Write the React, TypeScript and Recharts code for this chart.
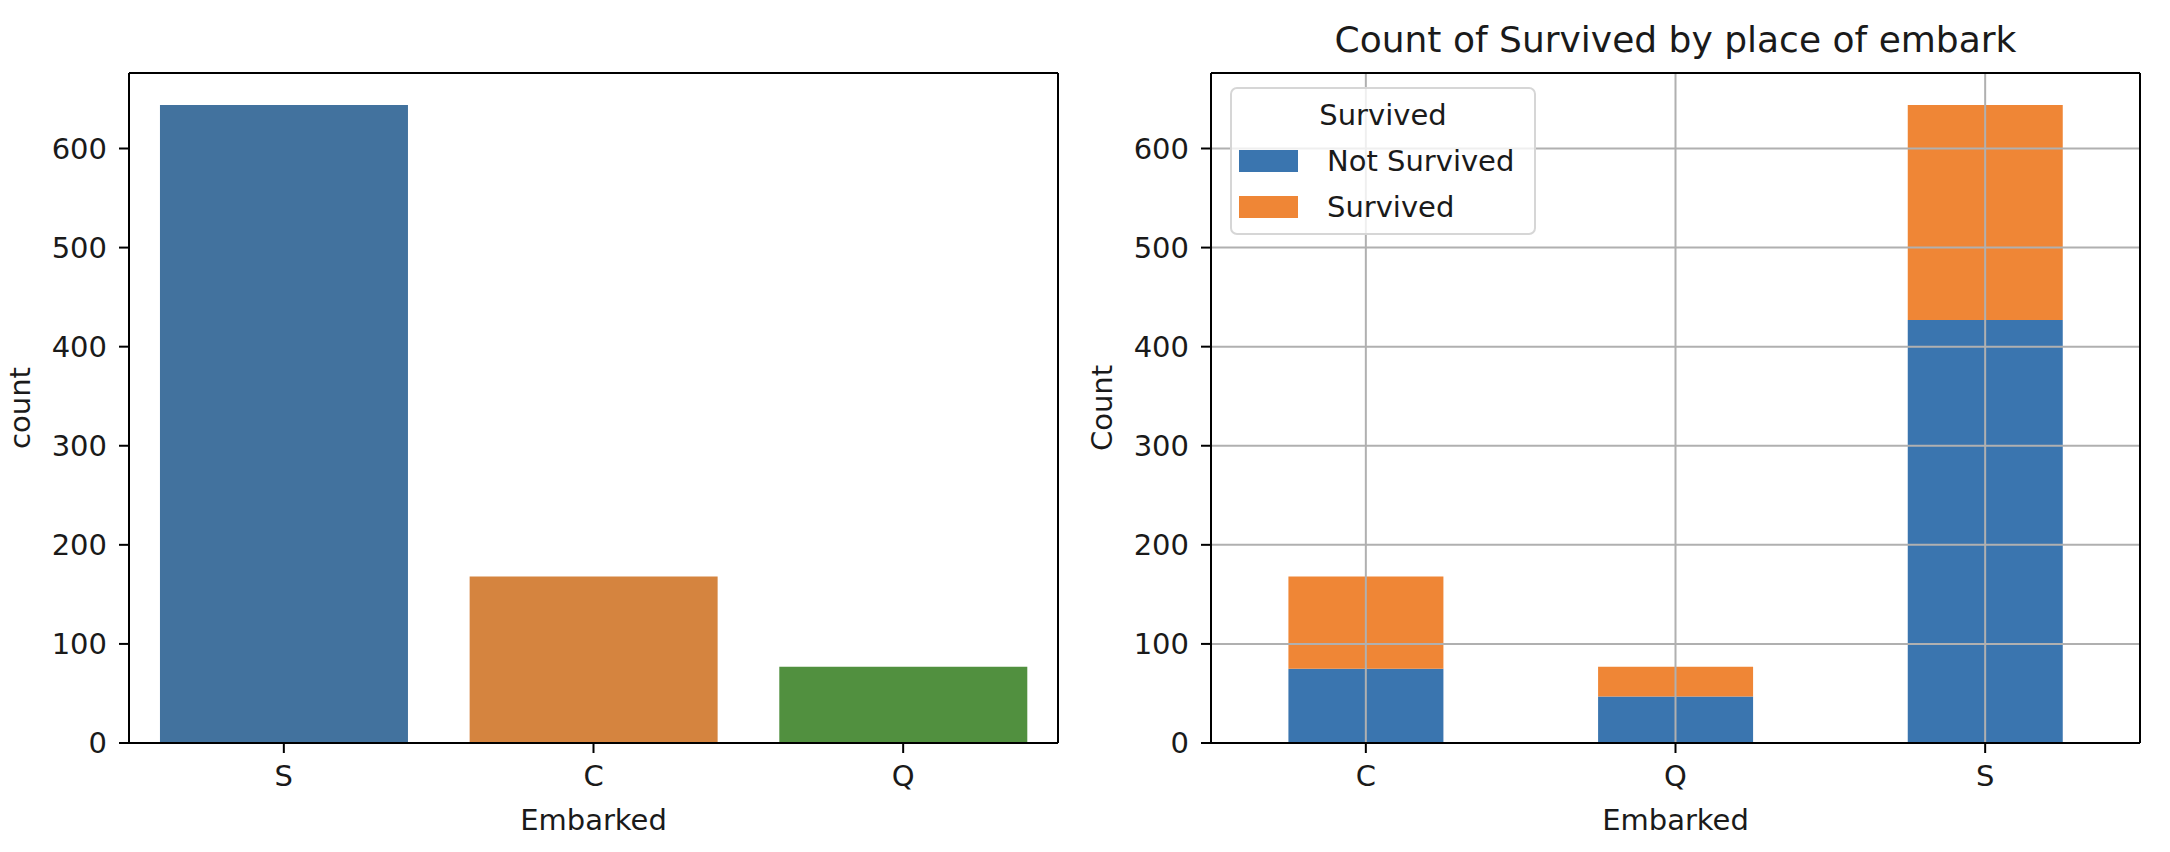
import React from 'react';
import { BarChart, Bar, XAxis, YAxis, Cell, Legend, ReferenceLine } from 'recharts';

const LEFT_CATEGORIES = ['S', 'C', 'Q'];
const LEFT_COUNTS = [644, 168, 77];
const LEFT_COLORS = ['#42729e', '#d5843f', '#51903f'];

const RIGHT_CATEGORIES = ['C', 'Q', 'S'];
const NOT_SURVIVED = [75, 47, 427];
const SURVIVED = [93, 30, 217];
const SERIES_NAMES = ['Not Survived', 'Survived'];
const SERIES_COLORS = ['#3a75af', '#ef8636'];

const Y_TICKS = [0, 100, 200, 300, 400, 500, 600];
const Y_MAX = 676.2;

const leftData = LEFT_CATEGORIES.map((c, i) => ({ name: c, count: LEFT_COUNTS[i] }));
const rightData = RIGHT_CATEGORIES.map((c, i) => ({ name: c, ns: NOT_SURVIVED[i], s: SURVIVED[i] }));

const FONT = '"DejaVu Sans", sans-serif';
const FS = 29;
const TXT = '#1a1a1a';
const tickStyle = { fontSize: FS, fontFamily: FONT, fill: TXT };
const axisLine = { stroke: '#000', strokeWidth: 2 };
const tickLine = { stroke: '#000', strokeWidth: 2 };
const GRID = '#b0b0b0';

const xLabel = (text: string) => (props: any) => {
  const vb = props.viewBox || {};
  return (
    <text x={vb.x + vb.width / 2} y={vb.y + 87} textAnchor="middle" fontSize={FS} fontFamily={FONT} fill={TXT}>
      {text}
    </text>
  );
};

const yLabel = (text: string) => (props: any) => {
  const vb = props.viewBox || {};
  const x = vb.x + vb.width - 99;
  const y = vb.y + vb.height / 2;
  return (
    <text x={x} y={y} transform={`rotate(-90, ${x}, ${y})`} textAnchor="middle" fontSize={FS} fontFamily={FONT} fill={TXT}>
      {text}
    </text>
  );
};

const renderLegend = () => (
  <div
    style={{
      boxSizing: 'border-box',
      width: 306,
      height: 148,
      border: '2px solid #d6d6d6',
      borderRadius: 7,
      background: 'rgba(255,255,255,0.8)',
      fontFamily: FONT,
      fontSize: FS,
      color: TXT,
      position: 'relative',
    }}
  >
    <div style={{ position: 'absolute', left: 0, width: 302, top: 8, textAlign: 'center', lineHeight: '36px' }}>Survived</div>
    {SERIES_NAMES.map((n, i) => (
      <div key={n} style={{ position: 'absolute', left: 7, top: 56 + i * 46, height: 32, display: 'flex', alignItems: 'center' }}>
        <div style={{ width: 59, height: 22, background: SERIES_COLORS[i] }} />
        <div style={{ marginLeft: 29, lineHeight: '32px', whiteSpace: 'nowrap' }}>{n}</div>
      </div>
    ))}
  </div>
);

export default function App() {
  return (
    <div style={{ position: 'absolute', left: 0, top: 0, width: 2170, height: 852, background: '#fff' }}>
      <div style={{ position: 'absolute', left: 0, top: 0 }}>
        <BarChart width={1085} height={852} data={leftData} margin={{ top: 72, right: 26, bottom: 0, left: 0 }} barCategoryGap="10%">
          <XAxis
            dataKey="name"
            height={109}
            tick={tickStyle}
            tickSize={10}
            tickMargin={12}
            axisLine={axisLine}
            tickLine={tickLine}
            label={{ content: xLabel('Embarked') } as any}
          />
          <XAxis xAxisId="top" dataKey="name" orientation="top" height={1} tick={false} tickLine={false} axisLine={axisLine} />
          <YAxis
            width={129}
            domain={[0, Y_MAX]}
            ticks={Y_TICKS}
            tick={tickStyle}
            tickSize={10}
            tickMargin={12}
            axisLine={axisLine}
            tickLine={tickLine}
            label={{ content: yLabel('count') } as any}
          />
          <YAxis yAxisId="right" orientation="right" width={1} domain={[0, Y_MAX]} tick={false} tickLine={false} axisLine={axisLine} />
          <Bar dataKey="count" isAnimationActive={false}>
            {leftData.map((d, i) => (
              <Cell key={d.name} fill={LEFT_COLORS[i]} />
            ))}
          </Bar>
        </BarChart>
      </div>
      <div style={{ position: 'absolute', left: 1085, top: 0 }}>
        <BarChart width={1085} height={852} data={rightData} margin={{ top: 72, right: 29, bottom: 0, left: 0 }} barCategoryGap="25%">
          <Bar dataKey="ns" name={SERIES_NAMES[0]} stackId="a" fill={SERIES_COLORS[0]} isAnimationActive={false} />
          <Bar dataKey="s" name={SERIES_NAMES[1]} stackId="a" fill={SERIES_COLORS[1]} isAnimationActive={false} />
          {Y_TICKS.slice(1).map((t) => (
            <ReferenceLine key={'h' + t} y={t} stroke={GRID} strokeWidth={2} />
          ))}
          {RIGHT_CATEGORIES.map((c) => (
            <ReferenceLine key={'v' + c} x={c} stroke={GRID} strokeWidth={2} />
          ))}
          <XAxis
            dataKey="name"
            height={109}
            tick={tickStyle}
            tickSize={10}
            tickMargin={12}
            axisLine={axisLine}
            tickLine={tickLine}
            label={{ content: xLabel('Embarked') } as any}
          />
          <XAxis xAxisId="top" dataKey="name" orientation="top" height={1} tick={false} tickLine={false} axisLine={axisLine} />
          <YAxis
            width={126}
            domain={[0, Y_MAX]}
            ticks={Y_TICKS}
            tick={tickStyle}
            tickSize={10}
            tickMargin={12}
            axisLine={axisLine}
            tickLine={tickLine}
            label={{ content: yLabel('Count') } as any}
          />
          <YAxis yAxisId="right" orientation="right" width={1} domain={[0, Y_MAX]} tick={false} tickLine={false} axisLine={axisLine} />
          <Legend
            layout="vertical"
            align="center"
            verticalAlign="middle"
            content={renderLegend}
            wrapperStyle={{ left: 145, top: 87, width: 306, height: 148 }}
          />
        </BarChart>
        <div
          style={{
            position: 'absolute',
            left: 126,
            top: 22,
            width: 929,
            textAlign: 'center',
            fontFamily: FONT,
            fontSize: 36,
            lineHeight: '36px',
            color: TXT,
            whiteSpace: 'nowrap',
          }}
        >
          Count of Survived by place of embark
        </div>
      </div>
    </div>
  );
}
